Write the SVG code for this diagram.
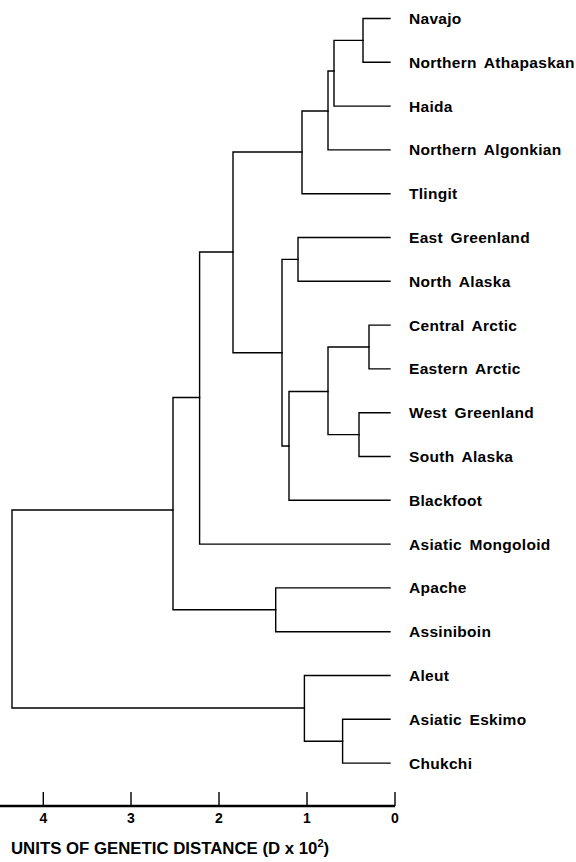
<svg xmlns="http://www.w3.org/2000/svg" width="576" height="862" viewBox="0 0 576 862">
<style>
.c{fill:none;stroke:#000;stroke-width:1.4;stroke-linecap:square}
.l{font-family:"Liberation Sans",Arial,sans-serif;font-weight:bold;font-size:15.5px;letter-spacing:0.3px;word-spacing:3px;fill:#000}
.ax{fill:none;stroke:#000;stroke-width:2.4}
.tk{fill:none;stroke:#000;stroke-width:1.4}
.n{font-family:"Liberation Sans",Arial,sans-serif;font-weight:bold;font-size:14px;fill:#000;text-anchor:middle}
.t{font-family:"Liberation Sans",Arial,sans-serif;font-weight:bold;font-size:16.8px;fill:#000}
</style>
<rect width="576" height="862" fill="#fff"/>
<g id="connectors">
<path class="c" d="M363 40.4V18.5H390M363 40.4V62.3H390"/>
<path class="c" d="M334 71V40.4H363M334 71V106.1H390"/>
<path class="c" d="M328 111V71H334M328 111V149.9H390"/>
<path class="c" d="M302 152V111H328M302 152V193.7H390"/>
<path class="c" d="M298 259.4V237.5H390M298 259.4V281.3H390"/>
<path class="c" d="M369 347V325.1H390M369 347V368.9H390"/>
<path class="c" d="M359 434.6V412.7H390M359 434.6V456.5H390"/>
<path class="c" d="M328 391.5V347H369M328 391.5V434.6H359"/>
<path class="c" d="M289 446V391.5H328M289 446V500.3H390"/>
<path class="c" d="M282 352.7V259.4H298M282 352.7V446H289"/>
<path class="c" d="M233 252V152H302M233 252V352.7H282"/>
<path class="c" d="M199.6 397.5V252H233M199.6 397.5V544.1H390"/>
<path class="c" d="M275.7 609.8V587.9H390M275.7 609.8V631.7H390"/>
<path class="c" d="M173 510V397.5H199.6M173 510V609.8H275.7"/>
<path class="c" d="M342.6 741.2V719.3H390M342.6 741.2V763.1H390"/>
<path class="c" d="M304.4 708V675.5H390M304.4 708V741.2H342.6"/>
<path class="c" d="M12 609V510H173M12 609V708H304.4"/>
</g>
<g id="leaf-navajo"><text class="l" x="409" y="24">Navajo</text></g>
<g id="leaf-northern-athapaskan"><text class="l" x="409" y="67.8">Northern Athapaskan</text></g>
<g id="leaf-haida"><text class="l" x="409" y="111.6">Haida</text></g>
<g id="leaf-northern-algonkian"><text class="l" x="409" y="155.4">Northern Algonkian</text></g>
<g id="leaf-tlingit"><text class="l" x="409" y="199.2">Tlingit</text></g>
<g id="leaf-east-greenland"><text class="l" x="409" y="243">East Greenland</text></g>
<g id="leaf-north-alaska"><text class="l" x="409" y="286.8">North Alaska</text></g>
<g id="leaf-central-arctic"><text class="l" x="409" y="330.6">Central Arctic</text></g>
<g id="leaf-eastern-arctic"><text class="l" x="409" y="374.4">Eastern Arctic</text></g>
<g id="leaf-west-greenland"><text class="l" x="409" y="418.2">West Greenland</text></g>
<g id="leaf-south-alaska"><text class="l" x="409" y="462">South Alaska</text></g>
<g id="leaf-blackfoot"><text class="l" x="409" y="505.8">Blackfoot</text></g>
<g id="leaf-asiatic-mongoloid"><text class="l" x="409" y="549.6">Asiatic Mongoloid</text></g>
<g id="leaf-apache"><text class="l" x="409" y="593.4">Apache</text></g>
<g id="leaf-assiniboin"><text class="l" x="409" y="637.2">Assiniboin</text></g>
<g id="leaf-aleut"><text class="l" x="409" y="681">Aleut</text></g>
<g id="leaf-asiatic-eskimo"><text class="l" x="409" y="724.8">Asiatic Eskimo</text></g>
<g id="leaf-chukchi"><text class="l" x="409" y="768.6">Chukchi</text></g>
<g id="axis">
<path class="ax" d="M0 806H395"/>
<path class="tk" d="M43.3 792V806M131 792V806M219 792V806M307 792V806M395 792V806"/>
<text class="n" x="43.3" y="823">4</text>
<text class="n" x="131" y="823">3</text>
<text class="n" x="219" y="823">2</text>
<text class="n" x="307" y="823">1</text>
<text class="n" x="395" y="823">0</text>
<text class="t" x="11" y="854">UNITS OF GENETIC DISTANCE (D x 10<tspan font-size="11" dy="-7">2</tspan><tspan dy="7">)</tspan></text>
</g>
</svg>
